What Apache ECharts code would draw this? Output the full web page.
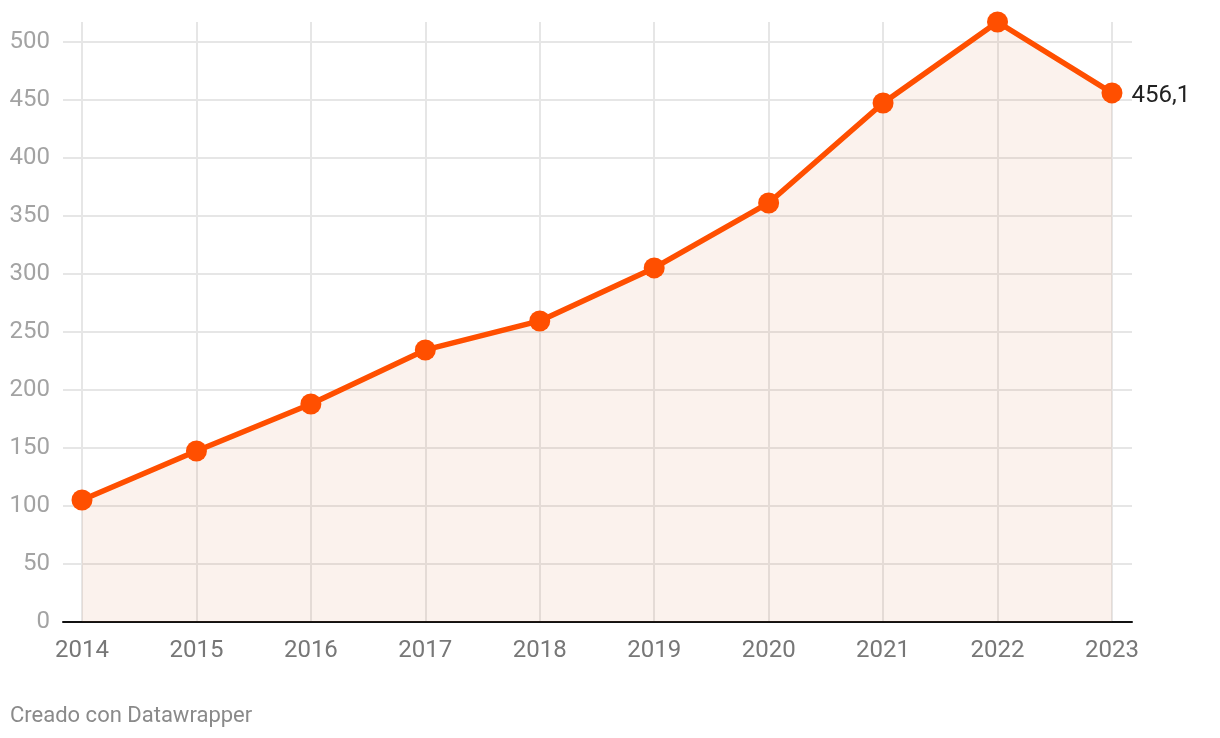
<!DOCTYPE html>
<html>
<head>
<meta charset="utf-8">
<script src="https://cdn.jsdelivr.net/npm/echarts@6/dist/echarts.min.js"></script>
<style>
  html, body { margin: 0; padding: 0; background: #fff; }
  #chart { width: 1220px; height: 738px; }
</style>
</head>
<body>
<div id="chart"></div>
<script>
const years = [2014, 2015, 2016, 2017, 2018, 2019, 2020, 2021, 2022, 2023];
const values = [105.2, 147.4, 187.9, 234.5, 259.5, 305.2, 361.2, 447.4, 517.2, 456.1];
const yTicks = [0, 50, 100, 150, 200, 250, 300, 350, 400, 450, 500];
const lastLabel = "456,1";

const chart = echarts.init(document.getElementById("chart"));
const lineColor = "#ff4f00";

chart.setOption({
  animation: false,
  textStyle: { fontFamily: "Roboto" },
  grid: { left: 63, right: 88, top: 22, bottom: 116 },
  graphic: [{
    type: "text",
    left: 10,
    top: 705,
    style: { text: "Creado con Datawrapper", fontSize: 22, fill: "#8a8a8a", fontFamily: "Roboto" }
  }],
  xAxis: {
    type: "value",
    min: 2013.834,
    max: 2023.175,
    axisLine: { show: true, onZero: false, lineStyle: { color: "#111", width: 2 } },
    axisTick: { show: false, customValues: years },
    axisLabel: {
      customValues: years,
      color: "#777",
      fontSize: 24,
      margin: 17,
      formatter: (v) => String(v)
    },
    splitLine: { show: true, lineStyle: { color: "#e6e6e6", width: 2 } }
  },
  yAxis: {
    type: "value",
    min: 0,
    max: 517.2,
    axisLine: { show: false },
    axisTick: { show: false, customValues: yTicks },
    axisLabel: { customValues: yTicks, color: "#a3a3a3", fontSize: 24, margin: 13 },
    splitLine: { show: true, lineStyle: { color: "#e6e6e6", width: 2 } }
  },
  series: [{
    type: "line",
    data: years.map((y, i) => [y, values[i]]),
    symbol: "circle",
    symbolSize: 21,
    lineStyle: { color: lineColor, width: 5.5 },
    itemStyle: { color: lineColor },
    areaStyle: { color: "rgba(210,100,50,0.12)" },
    label: {
      show: true,
      position: "right",
      distance: 9,
      offset: [0, 3],
      fontSize: 24,
      color: "#222",
      formatter: (p) => (p.dataIndex === years.length - 1 ? lastLabel : "")
    }
  }]
});
</script>
</body>
</html>
